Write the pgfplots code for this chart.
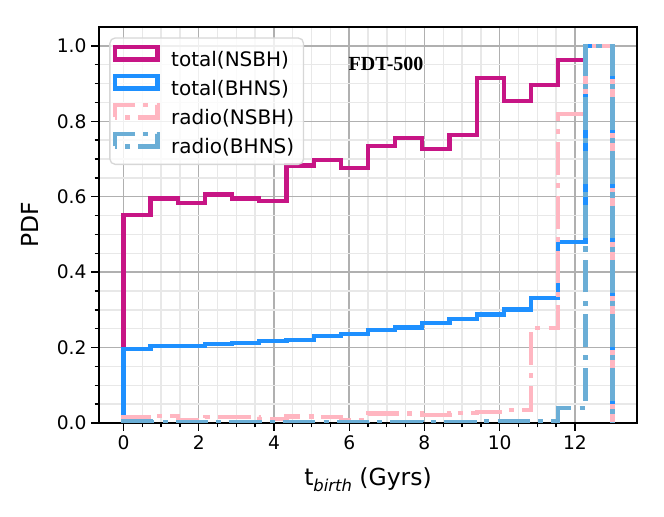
\documentclass[border=0pt]{standalone}
\usepackage{pgfplots}
\pgfplotsset{compat=1.18}
\usepackage{fontspec}
\setmainfont{DejaVu Sans}
\newfontfamily\serifbf{Liberation Serif}
\definecolor{cNSBH}{RGB}{199,21,133}
\definecolor{cBHNS}{RGB}{30,144,255}
\definecolor{cRNSBH}{RGB}{255,182,193}
\definecolor{cRBHNS}{RGB}{107,174,214}
\definecolor{gridmaj}{RGB}{176,176,176}
\definecolor{gridmin}{RGB}{232,232,232}
\definecolor{legendgray}{RGB}{215,215,215}
\begin{document}
\begin{tikzpicture}
\begin{axis}[
  at={(0,0)}, anchor=south west,
  width=403.5pt, height=297pt, scale only axis,
  xmin=-0.65, xmax=13.65, ymin=0, ymax=1.05,
  xtick={0,2,4,6,8,10,12}, ytick={0,0.2,0.4,0.6,0.8,1.0},
  minor x tick num=3, minor y tick num=3,
  xtick pos=bottom, ytick pos=left, tick align=outside,
  major tick length=5.8pt, minor tick length=3.3pt,
  tick style={black, line width=1pt},
  grid=both,
  major grid style={line width=1.1pt, color=gridmaj},
  minor grid style={line width=1.1pt, color=gridmin},
  axis line style={line width=1.1pt, black},
  /pgf/number format/assume math mode=true,
  yticklabel style={/pgf/number format/.cd, fixed, fixed zerofill, precision=1},
  ticklabel style={font=\fontsize{14pt}{16pt}\selectfont},
  xlabel={t\raisebox{-0.25em}{\fontsize{12.3pt}{13pt}\selectfont\itshape birth} (Gyrs)},
  ylabel={PDF},
  xlabel style={at={(axis description cs:0.5,-0.1583)}, anchor=base, font=\fontsize{17.6pt}{20pt}\selectfont},
  ylabel style={at={(axis description cs:-0.12825,0.5)}, anchor=center, font=\fontsize{17.6pt}{20pt}\selectfont},
  legend style={at={(axis description cs:0.019,0.974)}, anchor=north west, draw=legendgray, line width=1pt, rounded corners=4pt, fill=white, fill opacity=0.8, text opacity=1, draw opacity=1, font=\fontsize{15pt}{18pt}\selectfont, inner xsep=2.3pt, inner ysep=5pt, row sep=2.2pt, column sep=6.7pt, nodes={inner sep=2pt}},
  legend cell align=left,
  legend image code/.code={\draw[#1, sharp corners, line width=3.2pt, line join=miter] (0pt,0pt) rectangle (31.8pt,9.5pt);},
  every axis plot/.append style={line join=miter},
]
% total(NSBH)
\addplot[const plot, color=cNSBH, line width=3.2pt] coordinates {
(0,0) (0,0.552) (0.7222,0.595) (1.4444,0.583) (2.1667,0.606) (2.8889,0.595) (3.6111,0.589)
(4.3333,0.683) (5.0556,0.697) (5.7778,0.677) (6.5,0.735) (7.2222,0.755) (7.9444,0.726)
(8.6667,0.764) (9.3889,0.914) (10.1111,0.854) (10.8333,0.897) (11.5556,0.962) (12.2778,1.0) (13,0)};
\addlegendentry{total(NSBH)\hspace*{2.7pt}}
% total(BHNS)
\addplot[const plot, color=cBHNS, line width=3.2pt] coordinates {
(0,0) (0,0.197) (0.7222,0.205) (1.4444,0.204) (2.1667,0.209) (2.8889,0.213) (3.6111,0.218)
(4.3333,0.221) (5.0556,0.230) (5.7778,0.236) (6.5,0.246) (7.2222,0.253) (7.9444,0.266)
(8.6667,0.276) (9.3889,0.288) (10.1111,0.301) (10.8333,0.332) (11.5556,0.479) (12.2778,1.0) (13,0)};
\addlegendentry{total(BHNS)\hspace*{2.7pt}}
% radio(NSBH)
\addplot[const plot, color=cRNSBH, line width=3.2pt, dash pattern=on 24.6pt off 6.1pt on 3.85pt off 6.1pt] coordinates {
(0,0) (0,0.015) (0.7222,0.019) (1.4444,0.008) (2.1667,0.015) (2.8889,0.015) (3.6111,0.010)
(4.3333,0.017) (5.0556,0.015) (5.7778,0.008) (6.5,0.025) (7.2222,0.025) (7.9444,0.021)
(8.6667,0.026) (9.3889,0.030) (10.1111,0.035) (10.8333,0.252) (11.5556,0.819) (12.2778,1.0) (13,0)};
\addlegendentry{radio(NSBH)\hspace*{2.7pt}}
% radio(BHNS)
\addplot[const plot, color=cRBHNS, line width=3.2pt, dash pattern=on 24.6pt off 6.1pt on 3.85pt off 6.1pt] coordinates {
(0,0) (0,0.004) (0.7222,0.003) (1.4444,0.002) (2.1667,0.003) (2.8889,0.003) (3.6111,0.002)
(4.3333,0.003) (5.0556,0.003) (5.7778,0.002) (6.5,0.003) (7.2222,0.003) (7.9444,0.002)
(8.6667,0.003) (9.3889,0.004) (10.1111,0.004) (10.8333,0.006) (11.5556,0.039) (12.2778,1.0) (13,0)};
\addlegendentry{radio(BHNS)\hspace*{2.7pt}}
\node[font=\serifbf\bfseries\fontsize{15pt}{18pt}\selectfont] at (axis cs:6.98,0.951) {FDT-500};
\end{axis}
\pgfresetboundingbox
\path[use as bounding box] (-74.25pt,-70.5pt) rectangle (423.75pt,317.25pt);
\end{tikzpicture}
\end{document}
